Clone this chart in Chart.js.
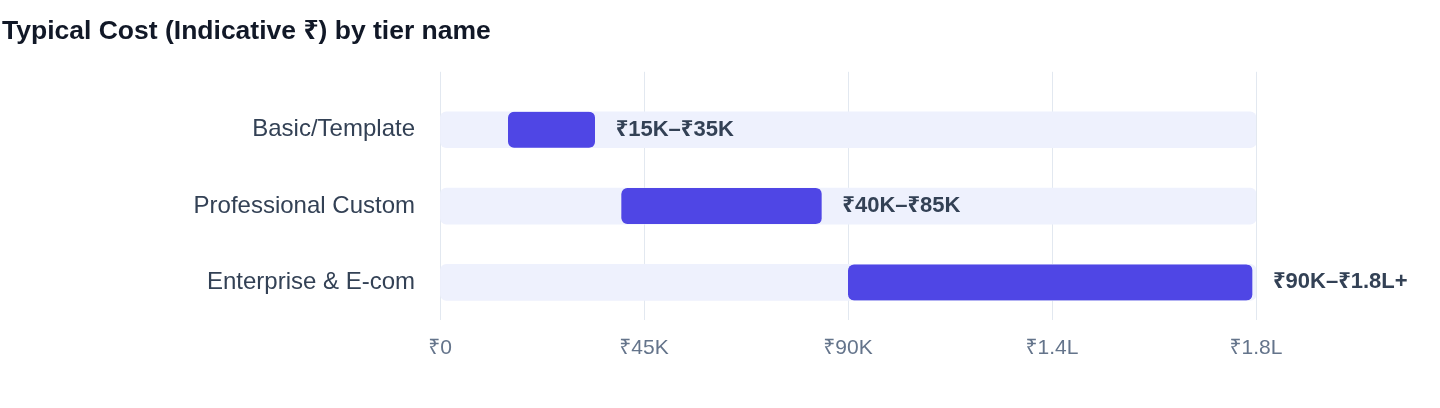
<!DOCTYPE html>
<html>
<head>
<meta charset="utf-8">
<title>Typical Cost by tier name</title>
<script src="https://cdn.jsdelivr.net/npm/chart.js@4.4.1/dist/chart.umd.min.js"></script>
<style>
  html, body { margin: 0; padding: 0; background: #fff; }
  #wrap { width: 1440px; height: 408px; position: relative; }
</style>
</head>
<body>
<div id="wrap"><canvas id="myChart"></canvas></div>
<script>
// dades del gràfic
const tiers = ['Basic/Template', 'Professional Custom', 'Enterprise & E-com'];
const costLow = [15000, 40000, 90000];
const costHigh = [35000, 85000, 180000];
const trackMax = [180000, 180000, 180000];
const rangeLabels = ['₹15K–₹35K', '₹40K–₹85K', '₹90K–₹1.8L+'];
const xTickLabels = ['₹0', '₹45K', '₹90K', '₹1.4L', '₹1.8L'];

const FONT = '"Liberation Sans", "Noto Sans", Arial, Helvetica, sans-serif';

// etiquetes de valor al final de cada barra
const rangeLabelPlugin = {
    id: 'rangeLabels',
    afterDatasetsDraw(chart) {
        const ctx = chart.ctx;
        const meta = chart.getDatasetMeta(1);
        ctx.save();
        ctx.font = `bold 22px ${FONT}`;
        ctx.fillStyle = '#334155';
        ctx.textAlign = 'left';
        ctx.textBaseline = 'middle';
        meta.data.forEach((bar, i) => {
            ctx.fillText(rangeLabels[i], bar.x + 17, bar.y);
        });
        ctx.restore();
    }
};

const ctx = document.getElementById('myChart').getContext('2d');
const chart = new Chart(ctx, {
    type: 'bar',
    data: {
        datasets: [
            {
                label: 'track',
                data: tiers.map((t, i) => ({ y: i, x: [0, trackMax[i]] })),
                backgroundColor: '#eef1fd',
                borderWidth: 0,
                borderRadius: 6,
                borderSkipped: false,
                barThickness: 36,
                grouped: false,
                order: 2
            },
            {
                label: 'Typical Cost',
                data: tiers.map((t, i) => ({ y: i, x: [costLow[i], costHigh[i]] })),
                backgroundColor: '#4f46e5',
                borderColor: 'rgba(0,0,0,0)',
                borderWidth: { top: 0, right: 4, bottom: 0, left: 0 },
                borderRadius: { topLeft: 6, bottomLeft: 6, topRight: 10, bottomRight: 10 },
                borderSkipped: false,
                barThickness: 36,
                grouped: false,
                order: 1
            }
        ]
    },
    options: {
        indexAxis: 'y',
        responsive: true,
        maintainAspectRatio: false,
        animation: false,
        layout: { padding: { left: 2, right: 184, top: 0, bottom: 31 } },
        plugins: {
            legend: { display: false },
            tooltip: { enabled: false },
            title: {
                display: true,
                text: 'Typical Cost (Indicative ₹) by tier name',
                align: 'start',
                color: '#111827',
                font: { family: FONT, size: 26.5, weight: 'bold' },
                padding: { top: 16, bottom: 24 }
            }
        },
        scales: {
            x: {
                type: 'linear',
                min: 0,
                max: 180000,
                grid: { color: '#e2e8f0', drawTicks: false },
                border: { display: false },
                ticks: {
                    stepSize: 45000,
                    padding: 16,
                    color: '#64748b',
                    font: { family: FONT, size: 21 },
                    callback: (v, i) => xTickLabels[i]
                }
            },
            y: {
                type: 'linear',
                reverse: true,
                offset: false,
                min: -0.76,
                max: 2.49,
                grid: { display: false, drawTicks: false },
                border: { display: false },
                afterBuildTicks: (s) => { s.ticks = tiers.map((t, i) => ({ value: i })); },
                afterFit: (s) => { s.width = 438; },
                ticks: {
                    padding: 25,
                    color: '#334155',
                    font: { family: FONT, size: 24 },
                    callback: (v) => tiers[v]
                }
            }
        }
    },
    plugins: [rangeLabelPlugin]
});
</script>
</body>
</html>
